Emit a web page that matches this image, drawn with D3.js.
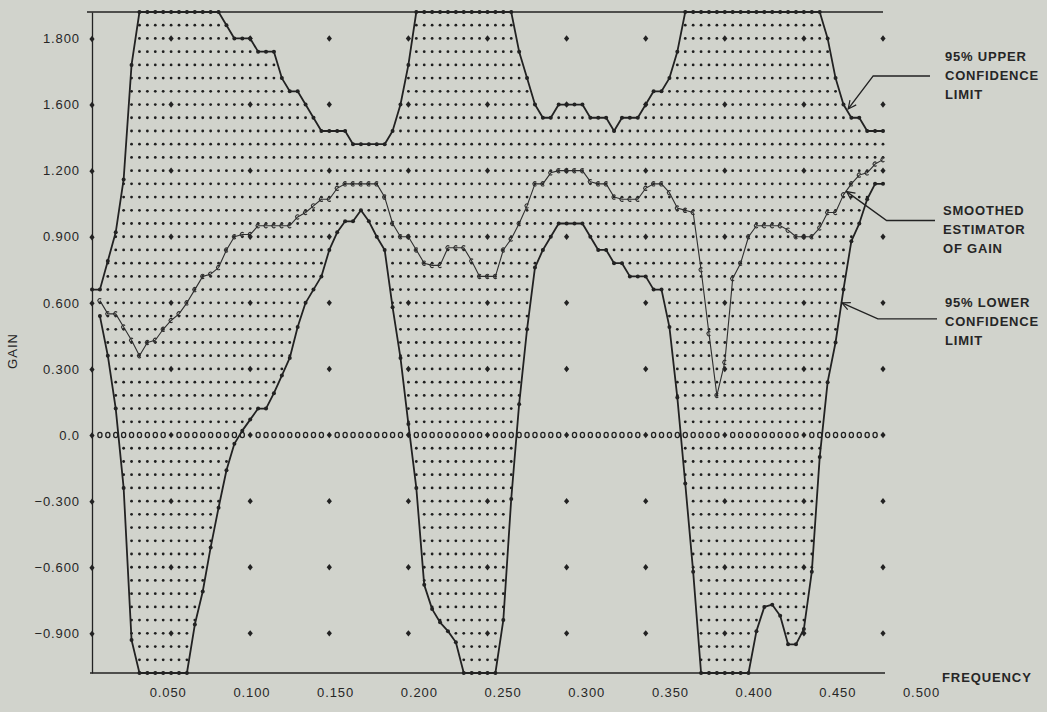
<!DOCTYPE html>
<html>
<head>
<meta charset="utf-8">
<script src="https://cdn.jsdelivr.net/npm/d3@7"></script>
<style>
  html, body { margin: 0; padding: 0; background: #d1d3cc; }
  svg { display: block; }
  text { font-family: "Liberation Sans", Arial, Helvetica, sans-serif; fill: #262626; }
</style>
</head>
<body>
<svg id="chart" width="1047" height="712"></svg>
<script>
// Printer columns: one every 0.005 cycles from 0 to 0.5
const frequency = d3.range(0, 101).map(k => +(k * 0.005).toFixed(3));

// 95% upper confidence limit (values above the frame are held at the top edge, 1.92)
const upperLimit = [
  0.66, 0.66, 0.79, 0.92, 1.16, 1.68,
  1.92, 1.92, 1.92, 1.92, 1.92, 1.92, 1.92, 1.92, 1.92, 1.92, 1.92,
  1.86, 1.80, 1.80, 1.80, 1.74, 1.74, 1.74, 1.62, 1.56, 1.56, 1.50, 1.44,
  1.38, 1.38, 1.38, 1.38, 1.32, 1.32, 1.32, 1.32, 1.32, 1.38, 1.50, 1.68,
  1.92, 1.92, 1.92, 1.92, 1.92, 1.92, 1.92, 1.92, 1.92, 1.92, 1.92, 1.92, 1.92,
  1.74, 1.62, 1.50, 1.44, 1.44, 1.50, 1.50, 1.50, 1.50, 1.44, 1.44, 1.44,
  1.38, 1.44, 1.44, 1.44, 1.50, 1.56, 1.56, 1.62, 1.74,
  1.92, 1.92, 1.92, 1.92, 1.92, 1.92, 1.92, 1.92, 1.92, 1.92, 1.92, 1.92,
  1.92, 1.92, 1.92, 1.92, 1.92, 1.92,
  1.80, 1.62, 1.50, 1.44, 1.44, 1.38, 1.38, 1.38
];

// 95% lower confidence limit (values below the frame are held at the bottom edge, -1.08)
const lowerLimit = [
  null, 0.54, 0.36, 0.12, -0.24, -0.93,
  -1.08, -1.08, -1.08, -1.08, -1.08, -1.08, -1.08,
  -0.86, -0.71, -0.51, -0.33, -0.16, -0.04, 0.02, 0.07, 0.12, 0.12, 0.19,
  0.27, 0.35, 0.49, 0.60, 0.66, 0.72, 0.84, 0.92, 0.97, 0.97, 1.02, 0.97,
  0.90, 0.84, 0.58, 0.35, 0.05, -0.24, -0.68, -0.79, -0.85, -0.89, -0.94,
  -1.08, -1.08, -1.08, -1.08, -1.08,
  -0.84, -0.29, 0.14, 0.48, 0.76, 0.84, 0.90, 0.96, 0.96, 0.96, 0.96, 0.90,
  0.84, 0.84, 0.78, 0.78, 0.72, 0.72, 0.72, 0.66, 0.66, 0.49, 0.17, -0.22, -0.62,
  -1.08, -1.08, -1.08, -1.08, -1.08, -1.08, -1.08,
  -0.89, -0.78, -0.77, -0.82, -0.95, -0.95, -0.88, -0.62, -0.10, 0.24, 0.42,
  0.66, 0.88, 0.96, 1.07, 1.14, 1.14
];

// Smoothed estimator of gain
const smoothedGain = [
  null, 0.61, 0.55, 0.55, 0.49, 0.43, 0.36, 0.42, 0.43, 0.48, 0.52,
  0.55, 0.60, 0.66, 0.72, 0.73, 0.76, 0.84, 0.90, 0.91, 0.91,
  0.95, 0.95, 0.95, 0.95, 0.95, 0.99, 1.01, 1.04, 1.07, 1.07,
  1.12, 1.14, 1.14, 1.14, 1.14, 1.14, 1.08, 0.96, 0.90, 0.90,
  0.84, 0.78, 0.77, 0.77, 0.85, 0.85, 0.85, 0.79, 0.72, 0.72,
  0.72, 0.84, 0.89, 0.96, 1.04, 1.14, 1.14, 1.19, 1.20, 1.20,
  1.20, 1.20, 1.15, 1.14, 1.14, 1.08, 1.07, 1.07, 1.07, 1.12,
  1.14, 1.14, 1.10, 1.03, 1.02, 1.01, 0.75, 0.46, 0.18, 0.33,
  0.71, 0.78, 0.90, 0.95, 0.95, 0.95, 0.95, 0.93, 0.90, 0.90,
  0.90, 0.94, 1.01, 1.01, 1.09, 1.14, 1.18, 1.19, 1.23, 1.25
];

// Axis ticks and their printed labels
const yTicks = [-0.9, -0.6, -0.3, 0, 0.3, 0.6, 0.9, 1.2, 1.5, 1.8];
const yTickLabels = ["\u22120.900", "\u22120.600", "\u22120.300", "0.0", "0.300", "0.600", "0.900", "1.200", "1.600", "1.800"];
const xTicks = [0.05, 0.1, 0.15, 0.2, 0.25, 0.3, 0.35, 0.4, 0.45, 0.5];
const xTickLabels = ["0.050", "0.100", "0.150", "0.200", "0.250", "0.300", "0.350", "0.400", "0.450", "0.500"];

// Callout labels on the right
const callouts = [
  { lines: ["95% UPPER", "CONFIDENCE", "LIMIT"], f: 0.478, v: 1.48, elbow: [25, -33], lineEnd: 930, textX: 945, textY: 61 },
  { lines: ["SMOOTHED", "ESTIMATOR", "OF GAIN"], f: 0.477, v: 1.105, elbow: [40, 29], lineEnd: 935, textX: 943, textY: 215 },
  { lines: ["95% LOWER", "CONFIDENCE", "LIMIT"], f: 0.474, v: 0.60, elbow: [36, 16], lineEnd: 937, textX: 945, textY: 307 }
];

const W = 1047, H = 712;
const ink = "#222";

const x = d3.scaleLinear().domain([0, 0.5]).range([92, 883]);
const y = d3.scaleLinear().domain([-1.08, 1.92]).range([673, 12]);
// the typed frequency labels sit on a slightly wider pitch than the plot columns
const xLabel = d3.scaleLinear().domain([0, 0.5]).range([84, 921]);

// print rows every 0.06 in gain
const rows = d3.range(0, 51).map(i => Math.round((-1.08 + 0.06 * i) * 100) / 100);

const svg = d3.select("#chart");
svg.append("rect").attr("width", W).attr("height", H).attr("fill", "#d1d3cc");

const plot = svg.append("g");

const isTickRow = r => Math.abs(r / 0.3 - Math.round(r / 0.3)) < 1e-6 && r >= -0.9 - 1e-6 && r <= 1.8 + 1e-6;
const isGridMark = (k, r) => k % 10 === 0 && isTickRow(r);

// band fill: one dot per column and row between the two limits
const fill = [];
frequency.forEach((f, k) => {
  if (k === 0 || lowerLimit[k] == null) return;
  rows.forEach(r => {
    if (r === 0 || isGridMark(k, r)) return;
    if (r >= lowerLimit[k] - 1e-3 && r <= upperLimit[k] + 1e-3) fill.push([f, r]);
  });
});
plot.append("g").selectAll("circle").data(fill).join("circle")
  .attr("cx", d => x(d[0])).attr("cy", d => y(d[1])).attr("r", 1.4)
  .attr("fill", "#1e1e1e");

// frame: top edge and bottom (frequency) axis
const yTop = y.domain()[1], yBot = y.domain()[0];
plot.append("line").attr("x1", x(0) - 5).attr("x2", x(0.5)).attr("y1", y(yTop)).attr("y2", y(yTop))
  .attr("stroke", ink).attr("stroke-width", 1.7);
plot.append("line").attr("x1", x(0) - 2).attr("x2", x(0.5) + 2).attr("y1", y(yBot)).attr("y2", y(yBot))
  .attr("stroke", ink).attr("stroke-width", 1.7);

// zero line printed as small o's
const zeroCols = frequency.filter((f, k) => k > 0 && k % 10 !== 0);
plot.append("g").selectAll("ellipse").data(zeroCols).join("ellipse")
  .attr("cx", d => x(d)).attr("cy", y(0)).attr("rx", 2.1).attr("ry", 2.6)
  .attr("fill", "none").attr("stroke", "#222").attr("stroke-width", 1.3);

// grid marks every 0.05 in frequency and 0.3 in gain
const diamond = "M0,-3.2L2.6,0L0,3.2L-2.6,0Z";
const marks = [];
xTicks.forEach(f => yTicks.forEach(v => marks.push([f, v])));
plot.append("g").selectAll("path").data(marks).join("path")
  .attr("d", diamond).attr("transform", d => `translate(${x(d[0])},${y(d[1])})`)
  .attr("fill", ink);

// left axis with printed tick labels
const yAxis = d3.axisLeft(y).tickValues(yTicks)
  .tickFormat((d, i) => yTickLabels[i]).tickSize(0).tickSizeOuter(0).tickPadding(12);
const yAxisG = plot.append("g").attr("transform", `translate(${x(0)},0)`).call(yAxis);
yAxisG.select(".domain").attr("stroke", ink).attr("stroke-width", 1.3);
yAxisG.selectAll("text").attr("font-size", 13).attr("letter-spacing", "0.9px").attr("fill", "#262626")
  .attr("font-family", "'Liberation Sans', Arial, sans-serif");
yAxisG.selectAll(".tick").append("path").attr("d", diamond).attr("fill", ink);

// frequency labels
const xAxis = d3.axisBottom(xLabel).tickValues(xTicks)
  .tickFormat((d, i) => xTickLabels[i]).tickSize(0).tickSizeOuter(0).tickPadding(0);
const xAxisG = plot.append("g").attr("transform", "translate(0,688)").call(xAxis);
xAxisG.select(".domain").remove();
xAxisG.selectAll("text").attr("font-size", 13).attr("letter-spacing", "0.9px").attr("fill", "#262626")
  .attr("font-family", "'Liberation Sans', Arial, sans-serif");

// confidence limits
const line = d3.line().defined(d => d != null).x((d, i) => x(frequency[i])).y(d => y(d));
[upperLimit, lowerLimit].forEach(series => {
  plot.append("path").datum(series).attr("d", line)
    .attr("fill", "none").attr("stroke", ink).attr("stroke-width", 1.8)
    .attr("stroke-linejoin", "round");
  plot.append("g").selectAll("circle")
    .data(series.map((v, i) => [frequency[i], v]).filter(d => d[1] != null))
    .join("circle").attr("cx", d => x(d[0])).attr("cy", d => y(d[1])).attr("r", 2).attr("fill", ink);
});

// smoothed estimator, printed with c's
plot.append("path").datum(smoothedGain).attr("d", line)
  .attr("fill", "none").attr("stroke", "#2e2e2e").attr("stroke-width", 1.1)
  .attr("stroke-linejoin", "round");
const cMark = d3.arc().innerRadius(1.5).outerRadius(2.6)
  .startAngle(Math.PI / 2 + 0.8).endAngle(Math.PI / 2 + 2 * Math.PI - 0.8);
plot.append("g").selectAll("path")
  .data(smoothedGain.map((v, i) => [frequency[i], v]).filter(d => d[1] != null))
  .join("path").attr("d", cMark())
  .attr("transform", d => `translate(${x(d[0])},${y(d[1])})`).attr("fill", "#2e2e2e");

// axis titles
svg.append("text").attr("transform", `translate(17,351) rotate(-90)`)
  .attr("text-anchor", "middle").attr("font-size", 13).attr("letter-spacing", "1px").text("GAIN");
svg.append("text").attr("x", 942).attr("y", 682)
  .attr("font-size", 13).attr("font-weight", "bold").attr("letter-spacing", "0.9px").text("FREQUENCY");

// callouts with arrow leaders
const notes = svg.append("g");
callouts.forEach(c => {
  const tx = x(c.f), ty = y(c.v);
  const ex = tx + c.elbow[0], ey = ty + c.elbow[1];
  notes.append("path").attr("d", `M${c.lineEnd},${ey}L${ex},${ey}L${tx},${ty}`)
    .attr("fill", "none").attr("stroke", ink).attr("stroke-width", 1.4);
  const ang = Math.atan2(ey - ty, ex - tx);
  const head = [-0.45, 0.45].map(a => [tx + 9 * Math.cos(ang + a), ty + 9 * Math.sin(ang + a)]);
  notes.append("path").attr("d", `M${head[0][0]},${head[0][1]}L${tx},${ty}L${head[1][0]},${head[1][1]}`)
    .attr("fill", "none").attr("stroke", ink).attr("stroke-width", 1.2);
  const t = notes.append("text").attr("x", c.textX).attr("y", c.textY)
    .attr("font-size", 13).attr("font-weight", "bold").attr("letter-spacing", "0.8px");
  c.lines.forEach((s, i) => t.append("tspan").attr("x", c.textX).attr("dy", i === 0 ? 0 : 19).text(s));
});
</script>
</body>
</html>
